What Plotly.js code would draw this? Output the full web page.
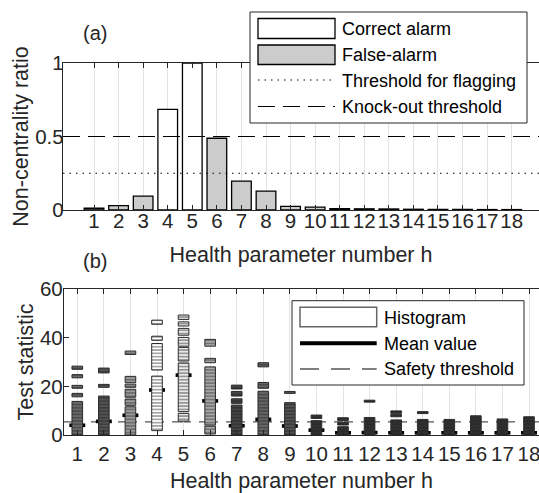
<!DOCTYPE html>
<html><head><meta charset="utf-8">
<script src="https://cdn.plot.ly/plotly-3.0.1.min.js"></script>
<style>html,body{margin:0;padding:0;background:#fff}#chart{width:539px;height:493px}</style>
</head><body><div id="chart"></div>
<script>
// ---------- data ----------
const H = [1,2,3,4,5,6,7,8,9,10,11,12,13,14,15,16,17,18];
const ncr = [0.012,0.03,0.095,0.685,1.0,0.488,0.197,0.129,0.025,0.02,0.01,0.008,0.007,0.005,0.004,0.004,0.003,0.003];
const correctAlarmH = [4,5];
const flagThreshold = 0.25;
const knockoutThreshold = 0.5;
const safetyThreshold = 5.4;
const meanStat = [4.0,5.6,8.1,18.5,24.6,14.0,3.8,6.4,3.7,2.0,0.9,1.0,0.9,0.9,0.9,0.9,0.9,0.9];
// histogram occupied ranges of the test statistic, per health parameter
const runH  = [1,1,1,1,1, 2,2,2, 3,3,3,3,3,3, 4,4,4,4, 5,5,5,5,5,5,5, 6,6,6,6, 7,7,7,7, 8,8,8, 9,9, 10,10, 11,11,11, 12,12, 13,13,13, 14,14, 15, 16, 17, 18];
const runLo = [27,23.5,19.2,15.7,0, 25.5,19.6,0, 33.1,21.5,19.6,15.5,12.2,0, 45.5,38.9,26.7,1.8, 47.5,44.8,41,36.5,30.4,9.6,5.7, 36.5,29.7,4.1,0.4, 18.9,16,13,0, 28,19.2,0, 17.1,0, 6.8,0, 5.9,4.1,0, 13.5,0, 8.9,7.5,0, 8.8,0, 0, 0, 0, 0];
const runHi = [28.3,24.8,20.4,17.1,13.8, 27.5,20.8,16, 34.5,24.1,20.9,18.8,14.8,11.6, 47.2,40.6,37.6,24.2, 49.3,46.5,43.8,40.1,36,29.6,8.9, 39.3,31.5,28,3.7, 20.5,17.9,14.9,12.3, 29.7,21.6,18, 17.9,13.3, 8.2,5.9, 7.1,5.2,3.4, 14.3,7.2, 9.9,8.5,6.2, 9.6,6.4, 6.4, 7.9, 6.6, 7.5];

// ---------- styles ----------
const histBg = ['#4d4d4d','#3d3d3d','#9a9a9a','#ffffff','#e8e8e8','#a6a6a6','#333333','#4a4a4a','#3a3a3a','#2a2a2a','#2a2a2a','#2a2a2a','#2a2a2a','#2a2a2a','#2a2a2a','#2a2a2a','#2a2a2a','#2a2a2a'];
const histFg = ['#8c8c8c','#6e6e6e','#333333','#333333','#333333','#3a3a3a','#5a5a5a','#888888','#707070','#3a3a3a','#3a3a3a','#3a3a3a','#3a3a3a','#3a3a3a','#3a3a3a','#3a3a3a','#3a3a3a','#3a3a3a'];
const W = 539, HT = 493;
const px = v => v / W, py = v => 1 - v / HT;
const AX = '#262626';
const FONT = 'Liberation Sans, Arial, Helvetica, sans-serif';

const traces = [];
traces.push({
  type:'bar', x:H, y:ncr, width:0.8, xaxis:'x', yaxis:'y',
  marker:{color:H.map(h => correctAlarmH.includes(h) ? '#ffffff' : '#cccccc'), line:{color:'#000', width:1.3}},
  hoverinfo:'skip'
});
traces.push({
  type:'bar', x:H, base:meanStat.map(m => m - 0.75), y:meanStat.map(() => 1.5), width:0.6,
  xaxis:'x2', yaxis:'y2', marker:{color:'#000', line:{width:0}}, hoverinfo:'skip'
});
H.forEach((h, i) => {
  const idx = runH.map((v, k) => v === h ? k : -1).filter(k => k >= 0);
  traces.push({
    type:'bar', x:idx.map(() => h), base:idx.map(k => runLo[k]), y:idx.map(k => runHi[k] - runLo[k]),
    width:0.4, xaxis:'x2', yaxis:'y2', hoverinfo:'skip',
    marker:{color:histBg[i], line:{color:'#2b2b2b', width:1},
      pattern:{shape:'-', size:3.3, solidity:0.45, fgcolor:histFg[i], fillmode:'overlay'}}
  });
});

const axBase = {
  ticks:'inside', ticklen:5, tickwidth:1, tickcolor:AX, showline:true, linecolor:AX, linewidth:1.2,
  zeroline:false, tickfont:{size:20.5, color:AX, family:FONT}, fixedrange:true, ticklabeloverflow:'allow', tickangle:0
};
const layout = {
  width:W, height:HT, margin:{l:0, r:0, t:0, b:0}, paper_bgcolor:'#fff', plot_bgcolor:'#fff',
  showlegend:false, barmode:'overlay', font:{family:FONT, color:AX},
  xaxis:Object.assign({}, axBase, {domain:[px(63), 1], range:[-0.262, 19.111], tickvals:H, mirror:'ticks',
    showgrid:true, gridcolor:'#e3e3e3', gridwidth:1, anchor:'y', ticklabelstandoff:-8,
    title:{text:'Health parameter number h', font:{size:21.5, color:AX}, standoff:16}}),
  yaxis:Object.assign({}, axBase, {domain:[py(210), py(63)], range:[0, 1], tickvals:[0, 0.5, 1], showgrid:false,
    anchor:'x', ticklabelstandoff:-6, title:{text:'Non-centrality ratio', font:{size:21.5, color:AX}, standoff:0}}),
  xaxis2:Object.assign({}, axBase, {domain:[px(64), 1], range:[0.5, 18.376], tickvals:H, mirror:'ticks',
    showgrid:true, gridcolor:'#e3e3e3', gridwidth:1, anchor:'y2', ticklabelstandoff:0,
    title:{text:'Health parameter number h', font:{size:21.5, color:AX}, standoff:19}}),
  yaxis2:Object.assign({}, axBase, {domain:[py(435), py(289)], range:[0, 60], tickvals:[0, 20, 40, 60], showgrid:false,
    anchor:'x2', ticklabelstandoff:-4, title:{text:'Test statistic', font:{size:21.5, color:AX}, standoff:0}}),
  shapes:[
    {type:'line', xref:'x2 domain', x0:0, x1:1, yref:'y2', y0:safetyThreshold, y1:safetyThreshold, layer:'below',
      line:{color:'#555', width:1.3, dash:'19px,8px'}},
    {type:'line', xref:'x domain', x0:0, x1:1, yref:'y', y0:flagThreshold, y1:flagThreshold, layer:'above',
      line:{color:'#000', width:1.2, dash:'1.5px,5px'}},
    {type:'line', xref:'x domain', x0:0, x1:1, yref:'y', y0:knockoutThreshold, y1:knockoutThreshold, layer:'above',
      line:{color:'#000', width:1.2, dash:'17px,8px'}},
    // legend (a)
    {type:'rect', xref:'paper', yref:'paper', x0:px(250), x1:px(527), y0:py(123), y1:py(12), fillcolor:'#fff', line:{color:AX, width:1}, layer:'above'},
    {type:'rect', xref:'paper', yref:'paper', x0:px(258), x1:px(335), y0:py(38.5), y1:py(18.5), fillcolor:'#fff', line:{color:'#000', width:1.3}, layer:'above'},
    {type:'rect', xref:'paper', yref:'paper', x0:px(258), x1:px(335), y0:py(64.5), y1:py(45), fillcolor:'#ccc', line:{color:'#000', width:1.3}, layer:'above'},
    {type:'line', xref:'paper', yref:'paper', x0:px(258), x1:px(335), y0:py(80), y1:py(80), line:{color:'#000', width:1.2, dash:'1.5px,5px'}, layer:'above'},
    {type:'line', xref:'paper', yref:'paper', x0:px(258), x1:px(335), y0:py(106.5), y1:py(106.5), line:{color:'#000', width:1.2, dash:'17px,8px'}, layer:'above'},
    // legend (b)
    {type:'rect', xref:'paper', yref:'paper', x0:px(292), x1:px(524), y0:py(385), y1:py(300.7), fillcolor:'#fff', line:{color:AX, width:1}, layer:'above'},
    {type:'rect', xref:'paper', yref:'paper', x0:px(300), x1:px(376.7), y0:py(326.7), y1:py(307.3), fillcolor:'#fff', line:{color:'#666', width:1.5}, layer:'above'},
    {type:'line', xref:'paper', yref:'paper', x0:px(300), x1:px(376.7), y0:py(343.3), y1:py(343.3), line:{color:'#000', width:4}, layer:'above'},
    {type:'line', xref:'paper', yref:'paper', x0:px(300), x1:px(376.7), y0:py(369), y1:py(369), line:{color:'#555', width:1.3, dash:'19px,12px'}, layer:'above'}
  ],
  annotations:[
    {xref:'paper', yref:'paper', x:px(95), y:py(33), text:'(a)', showarrow:false, xanchor:'center', yanchor:'middle', font:{size:20, color:AX}},
    {xref:'paper', yref:'paper', x:px(95), y:py(261), text:'(b)', showarrow:false, xanchor:'center', yanchor:'middle', font:{size:20, color:AX}},
    {xref:'paper', yref:'paper', x:px(340), y:py(29), text:'Correct alarm', showarrow:false, xanchor:'left', yanchor:'middle', font:{size:18, color:'#000'}},
    {xref:'paper', yref:'paper', x:px(340), y:py(55), text:'False-alarm', showarrow:false, xanchor:'left', yanchor:'middle', font:{size:18, color:'#000'}},
    {xref:'paper', yref:'paper', x:px(340), y:py(80.5), text:'Threshold for flagging', showarrow:false, xanchor:'left', yanchor:'middle', font:{size:18, color:'#000'}},
    {xref:'paper', yref:'paper', x:px(340), y:py(106.5), text:'Knock-out threshold', showarrow:false, xanchor:'left', yanchor:'middle', font:{size:18, color:'#000'}},
    {xref:'paper', yref:'paper', x:px(382), y:py(318.3), text:'Histogram', showarrow:false, xanchor:'left', yanchor:'middle', font:{size:18, color:'#000'}},
    {xref:'paper', yref:'paper', x:px(382), y:py(343.5), text:'Mean value', showarrow:false, xanchor:'left', yanchor:'middle', font:{size:18, color:'#000'}},
    {xref:'paper', yref:'paper', x:px(382), y:py(369), text:'Safety threshold', showarrow:false, xanchor:'left', yanchor:'middle', font:{size:18, color:'#000'}}
  ]
};
Plotly.newPlot('chart', traces, layout, {displayModeBar:false, staticPlot:true});
</script>
</body></html>
